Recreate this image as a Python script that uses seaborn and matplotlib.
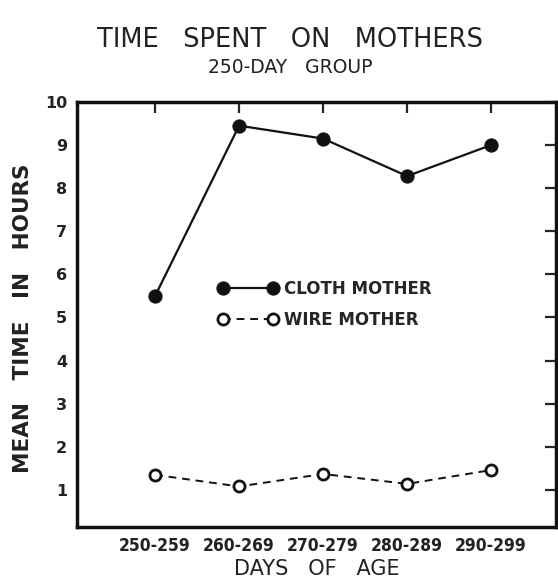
import matplotlib
matplotlib.use("Agg")
import matplotlib.pyplot as plt
import seaborn as sns
import pandas as pd

categories = ["250-259", "260-269", "270-279", "280-289", "290-299"]
cloth_mother = [5.5, 9.45, 9.15, 8.28, 9.0]
wire_mother = [1.35, 1.08, 1.37, 1.14, 1.46]
y_ticks = [1, 2, 3, 4, 5, 6, 7, 8, 9, 10]
y_tick_labels = ["1", "2", "3", "4", "5", "6", "7", "8", "9", "10"]

sns.set_style("white")
plt.rcParams['font.family'] = ['DejaVu Sans']

df = pd.DataFrame({
    "age": categories * 2,
    "hours": cloth_mother + wire_mother,
    "mother": ["CLOTH MOTHER"] * 5 + ["WIRE MOTHER"] * 5,
})
df["pos"] = list(range(5)) * 2

fig = plt.figure(figsize=(5.58, 5.86), dpi=100)
ax = fig.add_axes([0.138, 0.1007, 0.858, 0.7253])

sns.lineplot(data=df[df.mother == "CLOTH MOTHER"], x="pos", y="hours", ax=ax,
             color="#111111", lw=1.6, marker="o", markersize=9.5,
             markerfacecolor="#111111", markeredgecolor="#111111",
             label="CLOTH MOTHER")
sns.lineplot(data=df[df.mother == "WIRE MOTHER"], x="pos", y="hours", ax=ax,
             color="#111111", lw=1.4, marker="o", markersize=8,
             markerfacecolor="white", markeredgecolor="#111111", markeredgewidth=2,
             label="WIRE MOTHER")
ax.lines[1].set_dashes([4, 3])

ax.set_xlim(-0.93, 4.77)
ax.set_ylim(0.14, 10)
ax.set_xticks(range(5))
ax.set_xticklabels(categories, fontsize=12.5, fontweight="bold", color="#222222",
                   fontstretch="condensed")
ax.set_yticks(y_ticks)
ax.set_yticklabels(y_tick_labels, fontsize=11.5, fontweight="bold", color="#222222")
ax.tick_params(direction="in", length=8, width=1.6, top=True, right=True, pad=7)
for s in ax.spines.values():
    s.set_linewidth(2.5)
    s.set_color("#111111")
ax.set_xlabel("DAYS   OF   AGE", fontsize=15, color="#222222", labelpad=3)
ax.set_ylabel("MEAN   TIME   IN   HOURS", fontsize=15.5, fontweight="bold",
              color="#222222")
ax.yaxis.set_label_coords(-0.092, 0.49)

leg = ax.legend(loc="upper left", bbox_to_anchor=(0.28, 0.597), frameon=False,
                numpoints=2, handlelength=3.6, handletextpad=0.35,
                labelspacing=0.8, borderaxespad=0,
                prop={"size": 12, "weight": "bold"})

fig.text(0.52, 0.932, "TIME   SPENT   ON   MOTHERS", ha="center", va="center",
         fontsize=18.5, color="#222222")
fig.text(0.52, 0.885, "250-DAY   GROUP", ha="center", va="center",
         fontsize=13.5, color="#222222")

fig.savefig("out.png", dpi=100)
